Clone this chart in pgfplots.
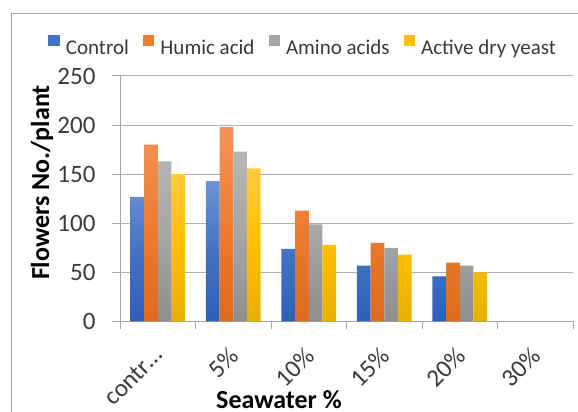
\documentclass[border=0pt]{standalone}
\usepackage{fontspec}
\setmainfont{Carlito}
\usepackage{pgfplots}
\pgfplotsset{compat=1.18}

% series colours: light top, base middle, darker bottom
\definecolor{ctrlT}{HTML}{6E92D6}\definecolor{ctrlM}{HTML}{4472C4}\definecolor{ctrlB}{HTML}{2E5EBA}
\definecolor{humT}{HTML}{F39359}\definecolor{humM}{HTML}{ED7D31}\definecolor{humB}{HTML}{DF6A1C}
\definecolor{amiT}{HTML}{B6B6B6}\definecolor{amiM}{HTML}{A5A5A5}\definecolor{amiB}{HTML}{8E8E8E}
\definecolor{yeaT}{HTML}{FFC93F}\definecolor{yeaM}{HTML}{FFC000}\definecolor{yeaB}{HTML}{E6AE00}
\definecolor{axgray}{HTML}{A6A6A6}
\definecolor{gridgray}{HTML}{B0B0B0}
\definecolor{labgray}{HTML}{3A3A3A}

\begin{document}
\begin{tikzpicture}[x=1pt,y=1pt]
\useasboundingbox (0,0) rectangle (578,412);
% chart frame
\draw[axgray, line width=1pt] (11.5,0) -- (11.5,398.7) -- (578,398.7);
\begin{axis}[
  at={(120pt,90.5pt)}, anchor=south west,
  scale only axis, width=453pt, height=245.5pt,
  ybar, bar width=13.7pt,
  xmin=-0.5, xmax=5.5, ymin=0, ymax=250,
  ytick={0,50,...,250},
  xtick={0,...,5},
  xticklabels={contr…,5\%,10\%,15\%,20\%,30\%},
  minor xtick={-0.5,0.5,...,5.5},
  axis x line*=bottom, axis y line*=left,
  axis line style={axgray, line width=1pt},
  tick align=outside,
  major tick length=8pt, minor tick length=8pt,
  major x tick style={draw=none},
  minor x tick style={axgray, line width=1pt},
  ytick style={axgray, line width=1pt},
  ymajorgrids, grid style={gridgray, line width=1pt},
  /pgf/number format/assume math mode=true,
  yticklabel style={font=\fontsize{25}{25}\selectfont, text=labgray, anchor=east, xshift=-13pt},
  xticklabel style={font=\fontsize{25}{25}\selectfont, text=labgray, xshift=-5pt, yshift=-13pt,
    rotate=45, anchor=north east, inner sep=2pt},
  xlabel={Seawater \%},
  xlabel style={font=\bfseries\fontsize{26}{26}\selectfont, at={(axis description cs:0.351,-0.318)}, anchor=center},
  ylabel={Flowers No./plant},
  ylabel style={font=\bfseries\fontsize{26}{26}\selectfont, at={(axis description cs:-0.172,0.566)}, anchor=center, rotate=0},
  legend style={at={(axis description cs:0.402,1.121)}, anchor=center, draw=none, fill=none,
    font=\fontsize{21}{21}\selectfont, text=labgray,
    /tikz/every odd column/.append style={column sep=6pt},
    /tikz/every even column/.append style={column sep=14pt},
    nodes={inner xsep=0pt}},
  legend columns=-1,
  legend image code/.code={\fill[#1] (0pt,1.5pt) rectangle (11.5pt,12.5pt);},
]
\addlegendimage{fill=ctrlM, draw=none}
\addlegendimage{fill=humM, draw=none}
\addlegendimage{fill=amiM, draw=none}
\addlegendimage{fill=yeaM, draw=none}

\addplot[draw=none, bar shift=-20.55pt, top color=ctrlT, bottom color=ctrlB, middle color=ctrlM]
  coordinates {(0,127) (1,143) (2,74) (3,57) (4,46)};
\addplot[draw=none, bar shift=-6.85pt, top color=humT, bottom color=humB, middle color=humM]
  coordinates {(0,180) (1,198) (2,113) (3,80) (4,60)};
\addplot[draw=none, bar shift=6.85pt, top color=amiT, bottom color=amiB, middle color=amiM]
  coordinates {(0,163) (1,173) (2,99) (3,75) (4,57)};
\addplot[draw=none, bar shift=20.55pt, top color=yeaT, bottom color=yeaB, middle color=yeaM]
  coordinates {(0,150) (1,156) (2,78) (3,68) (4,50)};

\legend{Control,Humic acid,Amino acids,Active dry yeast}
\end{axis}
\end{tikzpicture}
\end{document}
